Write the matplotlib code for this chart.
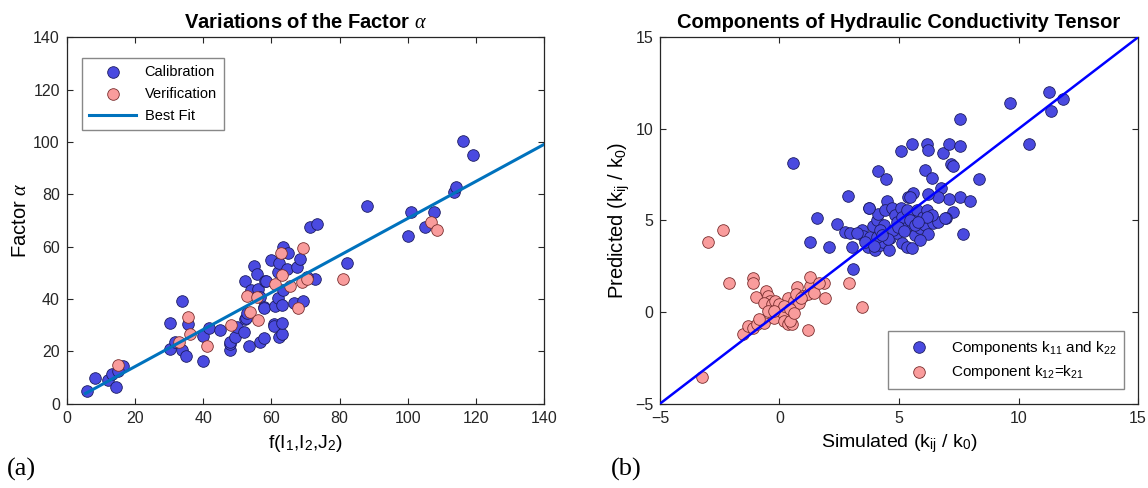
import numpy as np
import matplotlib
matplotlib.use("Agg")
import matplotlib.pyplot as plt

plt.rcParams['font.family'] = ['Liberation Sans', 'DejaVu Sans']
plt.rcParams['mathtext.fontset'] = 'custom'
plt.rcParams['mathtext.rm'] = 'Liberation Sans'
plt.rcParams['mathtext.it'] = 'Liberation Serif:italic'

# panel (a): factor alpha
calib_x = [6.0, 8.4, 12.0, 13.3, 14.4, 16.5, 15.0, 30.4, 30.4, 31.8, 33.9, 35.0,
           33.7, 35.5, 39.9, 39.9, 41.7, 45.0, 47.9, 47.9, 47.9, 49.2, 50.0, 51.9,
           52.2, 52.4, 52.5, 53.0, 53.5, 53.9, 54.9, 55.9, 56.0, 56.7, 56.7, 57.7,
           57.8, 57.8, 58.0, 58.3, 60.0, 60.8, 60.8, 61.2, 62.0, 62.0, 62.2, 62.3,
           63.0, 63.2, 63.2, 63.5, 64.5, 64.9, 66.5, 67.6, 68.4, 69.2, 72.8, 71.4,
           73.5, 82.3, 88.0, 100.0, 101.0, 104.9, 107.6, 113.5, 114.2, 116.3, 119.1,
           63.5, 70.5]
calib_y = [4.7, 9.8, 8.9, 11.2, 6.5, 14.4, 12.5, 30.8, 21.0, 23.6, 20.5, 18.2,
           39.3, 30.4, 25.7, 16.2, 28.8, 28.0, 20.5, 22.8, 23.4, 25.3, 29.4, 27.5,
           47.0, 32.3, 32.6, 34.6, 22.1, 43.4, 52.6, 49.4, 44.0, 40.6, 23.4, 36.8,
           25.2, 36.4, 47.0, 46.9, 54.9, 30.4, 29.8, 37.4, 50.2, 40.2, 53.6, 25.6,
           26.6, 30.7, 37.7, 60.0, 51.3, 57.7, 38.5, 52.4, 55.2, 39.2, 47.5, 67.6,
           68.6, 53.9, 75.7, 64.1, 73.1, 67.6, 73.1, 81.0, 82.9, 100.2, 95.2,
           43.5, 48.5]
verif_x = [15.1, 32.9, 35.5, 36.0, 41.2, 48.3, 52.9, 53.7, 55.9, 56.1, 61.1,
           62.7, 63.2, 65.5, 67.9, 69.1, 69.4, 70.3, 81.1, 106.9, 108.5]
verif_y = [14.8, 23.4, 33.3, 26.5, 22.1, 30.0, 41.3, 34.9, 40.9, 32.0, 45.7,
           57.7, 49.2, 45.0, 36.4, 46.6, 59.4, 47.8, 47.8, 69.3, 66.4]
fit_slope = 0.708
fit_x = [5.5, 140]

# panel (b): conductivity tensor components
k11_x = [0.58, 1.55, 1.28, 2.08, 2.42, 2.85, 2.74, 2.95, 3.02, 3.09, 3.74, 4.11,
         4.44, 5.07, 5.54, 6.09, 6.16, 6.23, 6.37, 6.74, 6.83, 7.09, 7.16, 7.25,
         7.55, 7.55, 8.33, 7.66, 7.55, 7.97, 7.09, 7.27, 6.65, 6.23, 5.60, 5.39,
         4.48, 6.97, 9.65, 10.42, 11.27, 11.34, 11.88,
         3.44, 3.51, 3.79, 3.72, 4.00, 4.20, 4.34, 4.59, 4.62, 4.90, 5.11, 5.32,
         5.32, 5.53, 5.67, 5.88, 5.95, 6.09, 6.23, 6.44, 6.65, 6.92, 3.90, 4.07,
         4.14, 4.37, 4.41, 4.69, 4.83, 4.90, 5.07, 5.11, 5.32, 5.46, 5.57, 5.74,
         6.00, 6.16, 6.37, 3.76, 3.26, 3.58, 4.07, 4.20, 4.76, 4.97, 5.46, 5.67,
         5.88, 6.16, 4.55, 5.20, 5.80, 4.30, 3.95]
k11_y = [8.15, 5.11, 3.84, 3.57, 4.80, 6.33, 4.38, 4.29, 3.57, 2.35, 5.66, 7.68,
         7.28, 8.81, 9.17, 7.75, 9.15, 8.84, 7.30, 6.80, 8.70, 9.17, 8.11, 7.99,
         10.53, 9.06, 7.24, 4.26, 6.26, 6.08, 6.15, 5.48, 6.26, 6.44, 6.48, 6.26,
         6.08, 5.15, 11.40, 9.16, 12.00, 10.98, 11.65,
         4.48, 4.15, 4.11, 3.57, 3.38, 3.66, 3.84, 3.38, 4.02, 4.29, 3.75, 4.69,
         3.57, 3.48, 4.20, 4.57, 5.20, 4.75, 4.26, 4.84, 4.93, 5.11, 4.69, 5.02,
         5.35, 4.75, 5.57, 5.66, 5.29, 4.93, 5.66, 5.20, 5.57, 6.30, 5.24, 5.57,
         5.20, 5.57, 5.29, 5.66, 4.33, 3.84, 4.11, 4.48, 4.48, 4.66, 5.02, 4.75,
         3.93, 5.20, 4.00, 4.40, 4.90, 4.20, 3.60]
k12_x = [-3.01, -2.38, -2.12, -3.24, -1.09, -1.09, -0.98, -1.52, -1.32, -1.09,
         -0.94, -0.63, -0.55, -0.48, -0.40, -0.63, -0.32, -0.17, -0.25, -0.09,
         0.14, 0.20, 0.37, 0.52, 0.45, 0.37, 0.60, 0.72, 0.68, 0.83, 0.98, 1.21,
         1.29, 1.27, 1.44, 1.86, 1.92, 1.67, 1.18, 2.90, 3.44, 0.00, 0.20, 0.45,
         0.90, -0.86, -0.48, -0.25, 0.60]
k12_y = [3.82, 4.48, 1.60, -3.55, 1.87, 1.60, 0.82, -1.18, -0.76, -0.86,
         -0.67, -0.58, 1.15, 0.87, 0.60, 0.51, 0.42, 0.60, -0.31, 0.15,
         -0.04, -0.49, -0.67, -0.67, -0.49, 0.78, 0.60, 1.38, 0.96, 0.51, 0.87, 0.96,
         1.42, 1.91, 1.05, 1.56, 0.78, 1.60, -1.00, 1.60, 0.27, 0.42, 0.33, 0.15,
         0.78, -0.40, 0.05, 0.05, -0.04]

blue_fc, blue_ec = '#4a4ae0', '#1c1c60'
pink_fc, pink_ec = '#f99c9c', '#7a2e2e'
axcol = '#262626'

fig = plt.figure(figsize=(11.48, 4.88), dpi=100)
ax1 = fig.add_axes([0.0581, 0.1728, 0.4160, 0.7508])
ax2 = fig.add_axes([0.5749, 0.1728, 0.4164, 0.7508])

ax1.scatter(calib_x, calib_y, s=70, c=blue_fc, edgecolors=blue_ec, linewidths=0.6,
            label='Calibration', zorder=2)
ax1.scatter(verif_x, verif_y, s=70, c=pink_fc, edgecolors=pink_ec, linewidths=0.6,
            label='Verification', zorder=3)
fx = np.array(fit_x)
ax1.plot(fx, fit_slope * fx, color='#0072bd', lw=2.2, label='Best Fit', zorder=4)
ax1.set_xlim(0, 140)
ax1.set_ylim(0, 140)
ax1.set_xticks(np.arange(0, 141, 20))
ax1.set_yticks(np.arange(0, 141, 20))
ax1.set_title(r'Variations of the Factor $\alpha$', fontsize=14.5, fontweight='bold', pad=7)
ax1.set_xlabel(r'f(I$_1$,I$_2$,J$_2$)', fontsize=14, labelpad=5)
ax1.set_ylabel(r'Factor $\alpha$', fontsize=14.5, labelpad=2)
leg1 = ax1.legend(loc='upper left', bbox_to_anchor=(0.032, 0.944), borderaxespad=0,
                  fancybox=False, framealpha=1, edgecolor='#888888', fontsize=10.5,
                  handlelength=3.2, borderpad=0.5, labelspacing=0.55, handletextpad=0.6)
leg1.get_frame().set_linewidth(1.0)

ax2.scatter(k11_x, k11_y, s=70, c=blue_fc, edgecolors=blue_ec, linewidths=0.6,
            label=r'Components k$_{11}$ and k$_{22}$', zorder=2)
ax2.scatter(k12_x, k12_y, s=70, c=pink_fc, edgecolors=pink_ec, linewidths=0.6,
            label=r'Component k$_{12}$=k$_{21}$', zorder=3)
ax2.plot([-5, 15], [-5, 15], color='#0000ff', lw=1.8, zorder=4)
ax2.set_xlim(-5, 15)
ax2.set_ylim(-5, 15)
ax2.set_xticks([-5, 0, 5, 10, 15])
ax2.set_yticks([-5, 0, 5, 10, 15])
ax2.set_title('Components of Hydraulic Conductivity Tensor', fontsize=14.5,
              fontweight='bold', pad=7)
ax2.set_xlabel(r'Simulated (k$_{\mathrm{ij}}$ / k$_0$)', fontsize=14, labelpad=5)
ax2.set_ylabel(r'Predicted (k$_{\mathrm{ij}}$ / k$_0$)', fontsize=14.5, labelpad=2)
leg2 = ax2.legend(loc='lower right', bbox_to_anchor=(0.971, 0.04), borderaxespad=0,
                  fancybox=False, framealpha=1, edgecolor='#888888', fontsize=11,
                  handlelength=3.0, borderpad=0.5, labelspacing=0.45, handletextpad=0.6)
leg2.get_frame().set_linewidth(1.0)

for ax in (ax1, ax2):
    ax.tick_params(direction='in', top=True, right=True, length=4, width=0.8,
                   colors=axcol, labelsize=11.5, pad=5)
    for sp in ax.spines.values():
        sp.set_color(axcol)
        sp.set_linewidth(0.9)

fig.text(0.006, 0.025, '(a)', fontsize=19, family='Liberation Serif')
fig.text(0.532, 0.025, '(b)', fontsize=19, family='Liberation Serif')

fig.savefig('out.png', dpi=100)
